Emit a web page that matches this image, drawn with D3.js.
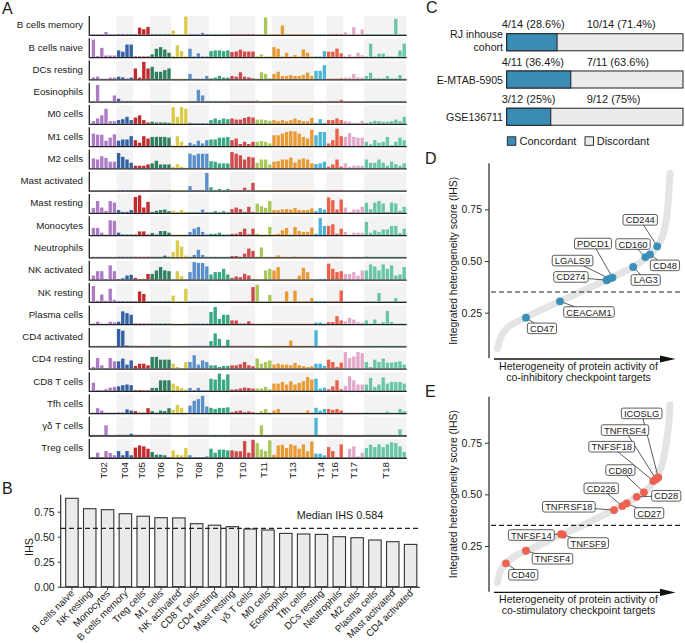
<!DOCTYPE html>
<html><head><meta charset="utf-8">
<script src="https://cdn.jsdelivr.net/npm/d3@7"></script>
<style>
body{margin:0;background:#fff}
text{font-family:"Liberation Sans",Arial,Helvetica,sans-serif;fill:#1a1a1a}
</style>
</head><body>
<svg id="c" width="685" height="643"></svg>
<script>
// ================= DATA =================
// Panel A
const tumors = ["T02","T04","T05","T06","T07","T08","T09","T10","T11","T13","T14","T16","T17","T18"];
const tumorCounts = [6,4,4,5,4,5,5,6,4,10,3,4,5,10];
const tumorColors = ["#ae7bc7","#3461a3","#c22a2c","#2f805f","#dccb4b","#5b8fc9","#3aa880",
                     "#cf4a4b","#aac75a","#e99b35","#4bb4d7","#e9614b","#e2a9c9","#69c6a9"];
const cellTypes = ["B cells memory","B cells naive","DCs resting","Eosinophils","M0 cells","M1 cells","M2 cells",
  "Mast activated","Mast resting","Monocytes","Neutrophils","NK activated","NK resting","Plasma cells",
  "CD4 activated","CD4 resting","CD8 T cells","Tfh cells","γδ T cells","Treg cells"];
// per-row values (order: T02 T04 T05 T06 T07 T08 T09 T10 T11 T13 T14 T16 T17 T18)
const vBcellsMemory = [.03,.03,.03,.15,.03,.03, .03,.03,.03,.03, .03,.39,.30,.43, .03,.03,.03,.03,.03, .23,.03,.03,1.0, .03,.03,.03,.10,.03, .03,.03,.03,.03,.03, .03,.03,.03,.03,.03,.03, .03,.03,.95,.03, .03,.03,.50,.03,.03,.03,.03,.03,.03,.03, .03,.04,.03, .03,.03,.03,.03, .13,.03,.42,.03,.29, .03,.03,.03,.03,.03,.03,.03,.87,.03,.03];
const vBcellsNaive = [.95,.05,.50,.08,.08,.08, .36,.29,.68,.68, .03,.03,.03,.03, .14,.45,.54,.41,.23, .05,.64,.32,.03, .45,.03,.20,.03,.03, .32,.36,.36,.32,.36, .27,.30,.40,.30,.30,.30, .03,.14,.03,.03, .54,.45,.03,.23,.03,.10,.03,.41,.23,.03, .03,.03,.32, .29,.29,.46,.20, .03,.14,.03,.23,.09, .03,.73,.03,.18,.18,.03,.03,.03,.36,.73];
const vDCsResting = [.10,.14,.03,.03,.09,.09, .14,.10,.03,.09, .59,.09,.95,.59, .68,.41,.41,.50,.59, .03,.03,.03,.03, .29,.03,.03,.03,.18, .05,.09,.18,.09,.09, .18,.14,.38,.14,.10,.05, .03,.38,.29,.05, .29,.41,.18,.18,.23,.18,.18,.23,.36,.18, .46,.46,.77, .03,.03,.03,.05, .09,.09,.29,.10,.09, .18,.36,.05,.05,.05,.18,.05,.05,.23,.03];
const vEosinophils = [.03,.91,.03,.03,.03,.33, .15,.03,.03,.03, .03,.03,.03,.03, .03,.03,.03,.03,.03, .03,.03,.03,.03, .03,.03,.64,.33,.03, .03,.03,.03,.03,.03, .03,.03,.03,.03,.03,.03, .06,.03,.03,.03, .03,.03,.03,.03,.03,.03,.03,.03,.03,.03, .03,.03,.03, .03,.03,.03,.09, .03,.03,.03,.03,.03, .03,.03,.03,.03,.03,.03,.03,.03,.03,.03];
const vM0 = [.14,.29,.46,.82,.14,.14, .20,.25,.38,.20, .34,.46,.20,.07, .11,.07,.07,.07,.05, .91,.38,.91,.82, .05,.03,.03,.03,.03, .20,.29,.20,.29,.25, .29,.23,.23,.32,.38,.34, .23,.23,.20,.16, .20,.14,.20,.14,.20,.29,.20,.14,.14,.32, .05,.25,.05, .20,.20,.29,.20, .14,.11,.05,.05,.16, .05,.11,.16,.14,.11,.11,.14,.23,.14,.38];
const vM1 = [.68,.62,.62,.29,.46,.64, .29,.36,.36,.54, .32,.18,.54,.41, .50,.50,.50,.50,.46, .03,.54,.23,.03, .18,.09,.29,.14,.32, .36,.36,.46,.46,.50, .32,.41,.11,.23,.11,.23, .23,.27,.23,.14, .59,.59,.68,.77,.82,.80,.68,.50,.41,.89, .59,.77,.77, .14,.32,.95,.54, .50,.71,.50,.46,.46, .23,.09,.32,.18,.23,.50,.05,.23,.46,.32];
const vM2 = [.54,.48,.66,.57,.36,.36, .84,.63,.48,.30, .14,.14,.14,.21, .27,.41,.21,.21,.21, .09,.23,.09,.03, .80,.71,.80,.80,.80, .39,.36,.27,.27,.27, .89,.80,.71,.48,.63,.59, .30,.48,.48,.21, .36,.39,.48,.48,.59,.32,.48,.54,.48,.27, .23,.27,.36, .09,.21,.48,.09, .27,.09,.14,.14,.14, .48,.30,.30,.48,.30,.14,.36,.23,.14,.27];
const vMastActivated = [.03,.03,.03,.03,.03,.03, .03,.03,.03,.03, .03,.03,.03,.03, .03,.03,.03,.03,.03, .03,.03,.03,.03, .24,.03,.03,.03,.96, .18,.03,.09,.03,.09, .03,.03,.03,.15,.03,.42, .03,.03,.03,.03, .03,.03,.03,.03,.03,.03,.03,.03,.03,.03, .03,.03,.03, .03,.03,.03,.03, .03,.03,.03,.03,.03, .03,.03,.03,.03,.03,.03,.03,.03,.03,.03];
const vMastResting = [.27,.65,.29,.11,.65,.56, .15,.05,.05,.15, .87,.96,.29,.60, .05,.11,.15,.18,.09, .11,.05,.15,.05, .03,.03,.03,.18,.03, .03,.09,.03,.09,.03, .20,.29,.20,.05,.33,.05, .51,.36,.27,.65, .15,.15,.18,.20,.18,.27,.15,.15,.15,.24, .09,.27,.18, .84,.69,.18,.73, .29,.05,.18,.18,.33, .55,.20,.56,.65,.51,.05,.56,.51,.11,.33];
const vMonocytes = [.39,.39,.13,.03,.81,.78, .13,.03,.03,.03, .03,.20,.20,.03, .11,.03,.22,.22,.13, .03,.03,.03,.03, .17,.35,.44,.17,.03, .07,.07,.13,.03,.03, .07,.07,.17,.35,.04,.35, .07,.03,.03,.44, .03,.07,.26,.39,.03,.44,.22,.17,.17,.41, .07,.94,.50, .50,.59,.07,.35, .17,.03,.13,.13,.13, .72,.13,.26,.17,.31,.31,.50,.50,.11,.35];
const vNeutrophils = [.03,.03,.03,.03,.03,.03, .03,.03,.03,.03, .03,.03,.03,.03, .03,.03,.03,.09,.03, .28,.93,.59,.09, .03,.13,.41,.13,.03, .03,.03,.03,.03,.03, .07,.07,.03,.20,.48,.35, .03,.54,.03,.03, .03,.11,.03,.03,.03,.05,.03,.03,.03,.03, .03,.03,.03, .03,.03,.03,.03, .03,.03,.03,.03,.03, .05,.03,.03,.03,.03,.03,.03,.03,.03,.03];
const vNKActivated = [.22,.46,.46,.03,.78,.46, .03,.07,.22,.26, .09,.03,.04,.31, .31,.50,.69,.50,.46, .03,.46,.19,.03, .41,.96,.91,.91,.72, .28,.41,.41,.59,.28, .09,.17,.13,.31,.22,.03, .03,.03,.50,.59, .50,.69,.03,.03,.03,.03,.22,.65,.41,.03, .03,.04,.04, .87,.59,.41,.46, .31,.31,.41,.22,.50, .50,.83,.72,.50,.83,.59,.78,.22,.28,.69];
const vNKResting = [.87,.06,.40,.06,.72,.11, .03,.03,.03,.03, .03,.57,.43,.03, .03,.03,.03,.03,.03, .34,.03,.03,.72, .03,.03,.03,.03,.03, .03,.03,.03,.03,.03, .03,.03,.03,.03,.03,.81, .94,.03,.03,.38, .03,.03,.03,.57,.03,.62,.03,.03,.03,.20, .05,.05,.05, .03,.03,.03,.62, .03,.03,.03,.03,.03, .03,.03,.03,.49,.03,.03,.03,.20,.03,.03];
const vPlasma = [.03,.13,.03,.03,.13,.09, .13,.70,.60,.51, .03,.03,.03,.03, .03,.03,.03,.03,.03, .03,.03,.03,.04, .03,.03,.03,.03,.03, .66,.94,.28,.51,.51, .20,.20,.03,.03,.15,.03, .03,.03,.03,.04, .03,.03,.03,.03,.03,.03,.03,.03,.03,.03, .09,.09,.03, .11,.11,.43,.20, .15,.34,.25,.11,.08, .20,.03,.25,.03,.11,.72,.11,.03,.03,.03];
const vCD4Activated = [.03,.03,.03,.03,.03,.03, .95,.86,.05,.03, .03,.03,.03,.03, .03,.03,.03,.03,.03, .03,.03,.03,.03, .03,.03,.03,.03,.03, .29,.71,.41,.03,.36, .03,.03,.03,.03,.03,.03, .03,.03,.03,.03, .03,.03,.03,.03,.32,.03,.03,.03,.03,.03, .89,.03,.03, .03,.03,.03,.03, .03,.03,.03,.03,.03, .03,.03,.03,.03,.03,.03,.03,.03,.03,.03];
const vCD4Resting = [.09,.58,.18,.03,.58,.40, .40,.55,.22,.45, .15,.27,.27,.18, .64,.64,.49,.49,.49, .27,.09,.03,.36, .36,.73,.22,.45,.36, .18,.18,.09,.15,.15, .18,.18,.24,.36,.18,.13, .55,.27,.36,.45, .22,.27,.22,.22,.18,.31,.18,.13,.09,.13, .27,.27,.15, .49,.36,.09,.33, .91,.58,.67,.91,.85, .36,.09,.49,.36,.55,.33,.33,.36,.40,.22];
const vCD8 = [.45,.04,.03,.09,.18,.22, .25,.31,.35,.31, .04,.04,.03,.03, .16,.16,.58,.58,.58, .40,.27,.16,.07, .16,.03,.16,.03,.03, .67,.62,.95,.62,.91, .07,.09,.13,.18,.16,.13, .13,.13,.22,.09, .40,.40,.49,.35,.53,.35,.44,.53,.76,.62, .67,.13,.18, .09,.25,.58,.09, .27,.80,.58,.35,.35, .35,.71,.22,.35,.73,.40,.49,.49,.49,.40];
const vTfh = [.03,.27,.14,.03,.03,.03, .03,.03,.20,.14, .11,.03,.03,.27, .11,.03,.14,.11,.27, .18,.45,.29,.03, .41,.68,.77,.95,.36, .29,.23,.29,.29,.32, .05,.11,.14,.05,.09,.05, .03,.11,.23,.03, .14,.23,.03,.03,.03,.03,.03,.03,.14,.03, .29,.14,.23, .23,.18,.23,.14, .03,.03,.03,.03,.03, .03,.03,.03,.03,.03,.09,.03,.03,.23,.11];
const vGammaDelta = [.03,.03,.03,.55,.03,.03, .03,.03,.03,.09, .03,.03,.03,.03, .03,.03,.03,.03,.03, .03,.03,.03,.03, .03,.03,.03,.03,.03, .03,.03,.03,.03,.03, .03,.03,.03,.03,.03,.03, .03,.55,.03,.03, .03,.03,.03,.03,.03,.03,.03,.03,.03,.03, .96,.03,.03, .03,.03,.03,.03, .03,.03,.03,.03,.03, .03,.03,.03,.03,.03,.03,.03,.03,.33,.03];
const vTreg = [.03,.27,.03,.36,.25,.13, .36,.13,.36,.13, .55,.67,.62,.49, .31,.16,.16,.13,.03, .40,.16,.13,.53, .13,.03,.03,.03,.07, .49,.27,.44,.44,.40, .40,.35,.35,.91,.27,.98, .80,.45,.36,.95, .16,.67,.71,.53,.73,.67,.49,.73,.35,.89, .22,.22,.13, .58,.36,.03,.73, .03,.49,.62,.07,.27, .53,.71,.58,.73,.58,.73,.85,.80,.62,.31];
const rowValues = [vBcellsMemory,vBcellsNaive,vDCsResting,vEosinophils,vM0,vM1,vM2,vMastActivated,vMastResting,
  vMonocytes,vNeutrophils,vNKActivated,vNKResting,vPlasma,vCD4Activated,vCD4Resting,vCD8,vTfh,vGammaDelta,vTreg];

// Panel B
const bCells = ["B cells naive","NK resting","Monocytes","B cells memory","Treg cells","M1 cells","NK activated",
  "CD8 T cells","CD4 resting","Mast resting","γδ T cells","M0 cells","Eosinophils","Tfh cells","DCs resting",
  "Neutrophils","M2 cells","Plasma cells","Mast activated","CD4 activated"];
const bIHS = [0.884,0.78,0.77,0.73,0.705,0.69,0.688,0.63,0.615,0.60,0.577,0.567,0.533,0.527,0.523,0.50,0.49,0.467,0.45,0.423];
const bMedian = 0.584;
const bTicks = [0,0.25,0.5,0.75];

// Panel C
const cCohorts = ["RJ inhouse cohort","E-MTAB-5905","GSE136711"];
const cCohortLines = [["RJ inhouse","cohort"],["E-MTAB-5905"],["GSE136711"]];
const cConcordant = [4,4,3];
const cTotal = [14,11,12];
const cLegend = ["Concordant","Discordant"];

// Panel D
const dCurveRank = [0,0.016,0.054,0.112,0.170,0.247,0.363,0.479,0.576,0.633,0.710,0.787,0.865,0.923,0.961,0.981,0.992,1.0];
const dCurveIHS  = [0.076,0.124,0.173,0.205,0.229,0.261,0.305,0.35,0.387,0.407,0.439,0.471,0.516,0.568,0.633,0.713,0.81,0.923];
const dGenes = ["CD47","CEACAM1","CD274","LGALS9","PDCD1","LAG3","CD160","CD48","CD244"];
const dGeneRank = [0.166,0.363,0.633,0.650,0.667,0.787,0.857,0.884,0.926];
const dGeneIHS  = [0.226,0.305,0.407,0.415,0.420,0.471,0.519,0.532,0.571];
const dLabelOffset = [[16,10.7],[29,10.7],[-35.7,-3.3],[-37,-18],[-19.5,-34],[12.5,13],[-12.3,-13],[15,11],[-17,-26.5]];

// Panel E
const eCurveRank = [0,0.016,0.050,0.112,0.170,0.247,0.373,0.479,0.595,0.672,0.749,0.826,0.884,0.923,0.961,0.981,0.996,1.0];
const eCurveIHS  = [0.072,0.126,0.166,0.206,0.227,0.255,0.308,0.343,0.392,0.424,0.459,0.497,0.537,0.585,0.666,0.763,0.875,0.932];
const eGenes = ["CD40","TNFSF4","TNFSF14","TNFSF9","TNFRSF18","CD226","CD27","CD28","CD80","TNFSF18","TNFRSF4","ICOSLG"];
const eGeneRank = [0.050,0.166,0.369,0.380,0.676,0.724,0.749,0.807,0.849,0.903,0.919,0.932];
const eGeneIHS  = [0.166,0.227,0.307,0.305,0.424,0.443,0.456,0.488,0.510,0.565,0.573,0.582];
const eLabelOffset = [[17.3,11.4],[26.5,8],[-29.7,0.8],[25.3,8.4],[-45.2,-3.3],[-21.1,-17.8],[22.5,9.6],[29.6,-1],[-23.5,-22.2],[-41.5,-34.2],[-31,-49.2],[-16.6,-64]];
const threshold = 0.35;

// ================= DRAW =================
const svg = d3.select("#c");
svg.append("rect").attr("width",685).attr("height",643).attr("fill","#fff");
const FONT = '"Liberation Sans",Arial,Helvetica,sans-serif';

function panelLetter(t,x,y){ svg.append("text").attr("x",x).attr("y",y).attr("font-size",16).text(t); }
panelLetter("A",2,14); panelLetter("B",2,494); panelLetter("C",426,13); panelLetter("D",425,164); panelLetter("E",425,397);

// ---------- Panel A ----------
const samples = [];
tumors.forEach((t,g)=>{ for(let k=0;k<tumorCounts[g];k++) samples.push({g:g, idx:samples.length}); });
const xA = d3.scaleBand().domain(d3.range(samples.length)).range([91.3,406.3]).paddingInner(0.2).paddingOuter(0.1);
const stepA = xA.step(), bwA = xA.bandwidth();
const groupStart = [], groupEnd = [];
{ let s=0; tumorCounts.forEach((n,g)=>{ groupStart.push(s); groupEnd.push(s+n-1); s+=n; }); }
const rowPitch = 22.26, base0 = 34.7, rowH = 18.7, axX0 = 89.3, axX1 = 406.7;
const gA = svg.append("g");
cellTypes.forEach((ct,r)=>{
  const base = base0 + r*rowPitch;
  const yA = d3.scaleLinear().domain([0,1]).range([base, base-18.2]);
  const g = gA.append("g");
  tumors.forEach((t,gi)=>{
    if(gi%2===1){
      const x0 = xA(groupStart[gi]) - stepA*0.1, x1 = xA(groupEnd[gi]) + bwA + stepA*0.1;
      g.append("rect").attr("x",x0).attr("y",base-rowH).attr("width",x1-x0).attr("height",rowH).attr("fill","#f3f3f3");
    }
  });
  g.selectAll("rect.bar").data(rowValues[r]).enter().append("rect").attr("class","bar")
    .attr("x",(d,i)=>xA(i)).attr("width",bwA)
    .attr("y",d=>yA(d)).attr("height",d=>base-yA(d))
    .attr("fill",(d,i)=>tumorColors[samples[i].g]);
  g.append("line").attr("x1",axX0).attr("x2",axX1).attr("y1",base+0.6).attr("y2",base+0.6).attr("stroke","#222").attr("stroke-width",1.3);
  g.append("line").attr("x1",axX0).attr("x2",axX0).attr("y1",base-rowH).attr("y2",base+1.2).attr("stroke","#222").attr("stroke-width",1.3);
  g.append("text").attr("x",83).attr("y",base-9.8).attr("text-anchor","end").attr("dominant-baseline","central")
    .attr("font-size",9.7).text(ct);
});
tumors.forEach((t,gi)=>{
  const cx = (xA(groupStart[gi]) + xA(groupEnd[gi]) + bwA)/2;
  gA.append("text").attr("transform",`translate(${cx},462) rotate(-90)`).attr("text-anchor","end")
    .attr("dominant-baseline","central").attr("font-size",9.7).text(t);
});

// ---------- Panel B ----------
const xB = d3.scaleBand().domain(bCells).range([63,419.5]).paddingInner(0.3).paddingOuter(0.15);
const yB = d3.scaleLinear().domain([0,0.92]).range([586.7,494.7]);
const gB = svg.append("g");
gB.selectAll("rect").data(bCells).enter().append("rect")
  .attr("x",d=>xB(d)).attr("width",xB.bandwidth())
  .attr("y",(d,i)=>yB(bIHS[i])).attr("height",(d,i)=>yB(0)-yB(bIHS[i]))
  .attr("fill","#ebebeb").attr("stroke","#333").attr("stroke-width",1.1);
const axB = gB.append("g").attr("transform","translate(60.7,0)")
  .call(d3.axisLeft(yB).tickValues(bTicks).tickFormat(d3.format(".2f")).tickSize(3));
axB.select(".domain").remove();
axB.selectAll("text").attr("font-size",10.5).attr("fill","#333").attr("font-family",FONT);
axB.selectAll("line").attr("stroke","#333");
gB.append("line").attr("x1",60.7).attr("x2",60.7).attr("y1",494.7).attr("y2",587.3).attr("stroke","#222").attr("stroke-width",1.1);
gB.append("line").attr("x1",60.2).attr("x2",420).attr("y1",587.3).attr("y2",587.3).attr("stroke","#222").attr("stroke-width",1.1);
const axBx = gB.append("g").attr("transform","translate(0,587.3)").call(d3.axisBottom(xB).tickSize(3).tickFormat(""));
axBx.select(".domain").remove(); axBx.selectAll("line").attr("stroke","#333");
gB.selectAll("text.xl").data(bCells).enter().append("text").attr("class","xl")
  .attr("transform",d=>`translate(${xB(d)+xB.bandwidth()/2+3},594) rotate(-45)`)
  .attr("text-anchor","end").attr("font-size",9.8).attr("fill","#222").text(d=>d);
gB.append("line").attr("x1",61).attr("x2",420).attr("y1",yB(bMedian)).attr("y2",yB(bMedian))
  .attr("stroke","#222").attr("stroke-width",1.2).attr("stroke-dasharray","5,3");
gB.append("text").attr("x",340).attr("y",518.5).attr("text-anchor","middle").attr("font-size",10.8).text("Median IHS " + bMedian);
gB.append("text").attr("transform","translate(33,547) rotate(-90)").attr("text-anchor","middle").attr("font-size",10.8).text("IHS");

// ---------- Panel C ----------
const xC = d3.scaleLinear().domain([0,1]).range([506.7,683]);
const yC = d3.scaleBand().domain(cCohorts).range([23.7,135.3]).paddingInner(0.543).paddingOuter(0.27);
const gC = svg.append("g");
const pct = (a,b)=> +(a/b*100).toFixed(1);
cCohorts.forEach((c,i)=>{
  const y0 = yC(c), h = yC.bandwidth(), f = cConcordant[i]/cTotal[i];
  gC.append("rect").attr("x",xC(0)).attr("y",y0).attr("width",xC(1)-xC(0)).attr("height",h)
    .attr("fill","#ebebeb").attr("stroke","#222").attr("stroke-width",1);
  gC.append("rect").attr("x",xC(0)).attr("y",y0).attr("width",xC(f)-xC(0)).attr("height",h)
    .attr("fill","#3a8cb4").attr("stroke","#222").attr("stroke-width",1);
  gC.append("text").attr("x",501.7).attr("y",y0-5.3).attr("font-size",11)
    .text(`${cConcordant[i]}/${cTotal[i]} (${pct(cConcordant[i],cTotal[i])}%)`);
  const dc = cTotal[i]-cConcordant[i];
  gC.append("text").attr("x",586.7).attr("y",y0-5.3).attr("font-size",11)
    .text(`${dc}/${cTotal[i]} (${pct(dc,cTotal[i])}%)`);
  const lines = cCohortLines[i], cy = y0 + h/2;
  lines.forEach((l,k)=>{
    const yy = lines.length===1 ? cy+4 : cy-4+k*12.3;
    gC.append("text").attr("x",503).attr("y",yy).attr("text-anchor","end").attr("font-size",10.6).text(l);
  });
});
[[507.3,"#3a8cb4",519.5],[585,"#ebebeb",596.7]].forEach((L,k)=>{
  gC.append("rect").attr("x",L[0]).attr("y",136.8).attr("width",8.5).attr("height",8.5).attr("fill",L[1]).attr("stroke","#222").attr("stroke-width",0.9);
  gC.append("text").attr("x",L[2]).attr("y",145).attr("font-size",11).text(cLegend[k]);
});

// ---------- Panels D & E ----------
function scatterPanel(cfg){
  const g = svg.append("g");
  const x = d3.scaleLinear().domain([0,1]).range([497.3,670]);
  const y = d3.scaleLinear().domain([0.25,0.75]).range([cfg.y25,cfg.y75]);
  g.append("line").attr("x1",489).attr("x2",489).attr("y1",cfg.axTop).attr("y2",cfg.axBot).attr("stroke","#222").attr("stroke-width",1.2);
  const ay = g.append("g").attr("transform","translate(489,0)")
    .call(d3.axisLeft(y).tickValues([0.25,0.5,0.75]).tickFormat(d3.format(".2f")).tickSize(4));
  ay.select(".domain").remove();
  ay.selectAll("text").attr("font-size",10.5).attr("fill","#333").attr("font-family",FONT);
  ay.selectAll("line").attr("stroke","#333");
  const ya = cfg.axBot+0.7;
  g.append("line").attr("x1",494).attr("x2",666).attr("y1",ya).attr("y2",ya).attr("stroke","#111").attr("stroke-width",1.3);
  g.append("path").attr("d",`M660,${ya-3.6}L675.5,${ya}L660,${ya+3.6}Z`).attr("fill","#111");
  g.append("text").attr("x",578.5).attr("y",cfg.axBot+11.5).attr("text-anchor","middle").attr("font-size",10.5).text("Heterogeneity of protein activity of");
  g.append("text").attr("x",578.5).attr("y",cfg.axBot+22.3).attr("text-anchor","middle").attr("font-size",10.5).text(cfg.xlab2);
  g.append("text").attr("transform",`translate(456.5,${(cfg.axTop+cfg.axBot)/2}) rotate(-90)`).attr("text-anchor","middle")
    .attr("font-size",10.4).text("Integrated heterogeneity score (IHS)");
  const line = d3.line().x((d,i)=>x(cfg.cR[i])).y((d,i)=>y(cfg.cV[i])).curve(d3.curveMonotoneX);
  g.append("path").attr("d",line(cfg.cR)).attr("fill","none").attr("stroke","#e4e4e4").attr("stroke-width",7).attr("stroke-linecap","round");
  g.append("line").attr("x1",491).attr("x2",681).attr("y1",y(threshold)).attr("y2",y(threshold))
    .attr("stroke","#222").attr("stroke-width",1.2).attr("stroke-dasharray","5,3");
  cfg.genes.forEach((gn,i)=>{
    const px = x(cfg.gR[i]), py = y(cfg.gV[i]);
    g.append("line").attr("x1",px).attr("y1",py).attr("x2",px+cfg.off[i][0]).attr("y2",py+cfg.off[i][1])
      .attr("stroke","#333").attr("stroke-width",0.8);
  });
  cfg.genes.forEach((gn,i)=>{
    g.append("circle").attr("cx",x(cfg.gR[i])).attr("cy",y(cfg.gV[i])).attr("r",3.9).attr("fill",cfg.color);
  });
  cfg.genes.forEach((gn,i)=>{
    const cx = x(cfg.gR[i])+cfg.off[i][0], cy = y(cfg.gV[i])+cfg.off[i][1];
    const lg = g.append("g");
    const r = lg.append("rect");
    const t = lg.append("text").attr("x",cx).attr("y",cy).attr("text-anchor","middle").attr("dominant-baseline","central")
      .attr("font-size",9.4).text(gn);
    const w = t.node().getComputedTextLength();
    r.attr("x",cx-w/2-2.6).attr("y",cy-5.3).attr("width",w+5.2).attr("height",10.6).attr("rx",2)
      .attr("fill","#fff").attr("stroke","#333").attr("stroke-width",0.8);
  });
}
scatterPanel({y25:312.7,y75:209.3,axTop:163.3,axBot:358.3,cR:dCurveRank,cV:dCurveIHS,genes:dGenes,gR:dGeneRank,gV:dGeneIHS,
  off:dLabelOffset,color:"#3a8fba",xlab2:"co-inhibitory checkpoint targets"});
scatterPanel({y25:546,y75:442.7,axTop:396.7,axBot:591.7,cR:eCurveRank,cV:eCurveIHS,genes:eGenes,gR:eGeneRank,gV:eGeneIHS,
  off:eLabelOffset,color:"#eb6253",xlab2:"co-stimulatory checkpoint targets"});
</script>
</body></html>
